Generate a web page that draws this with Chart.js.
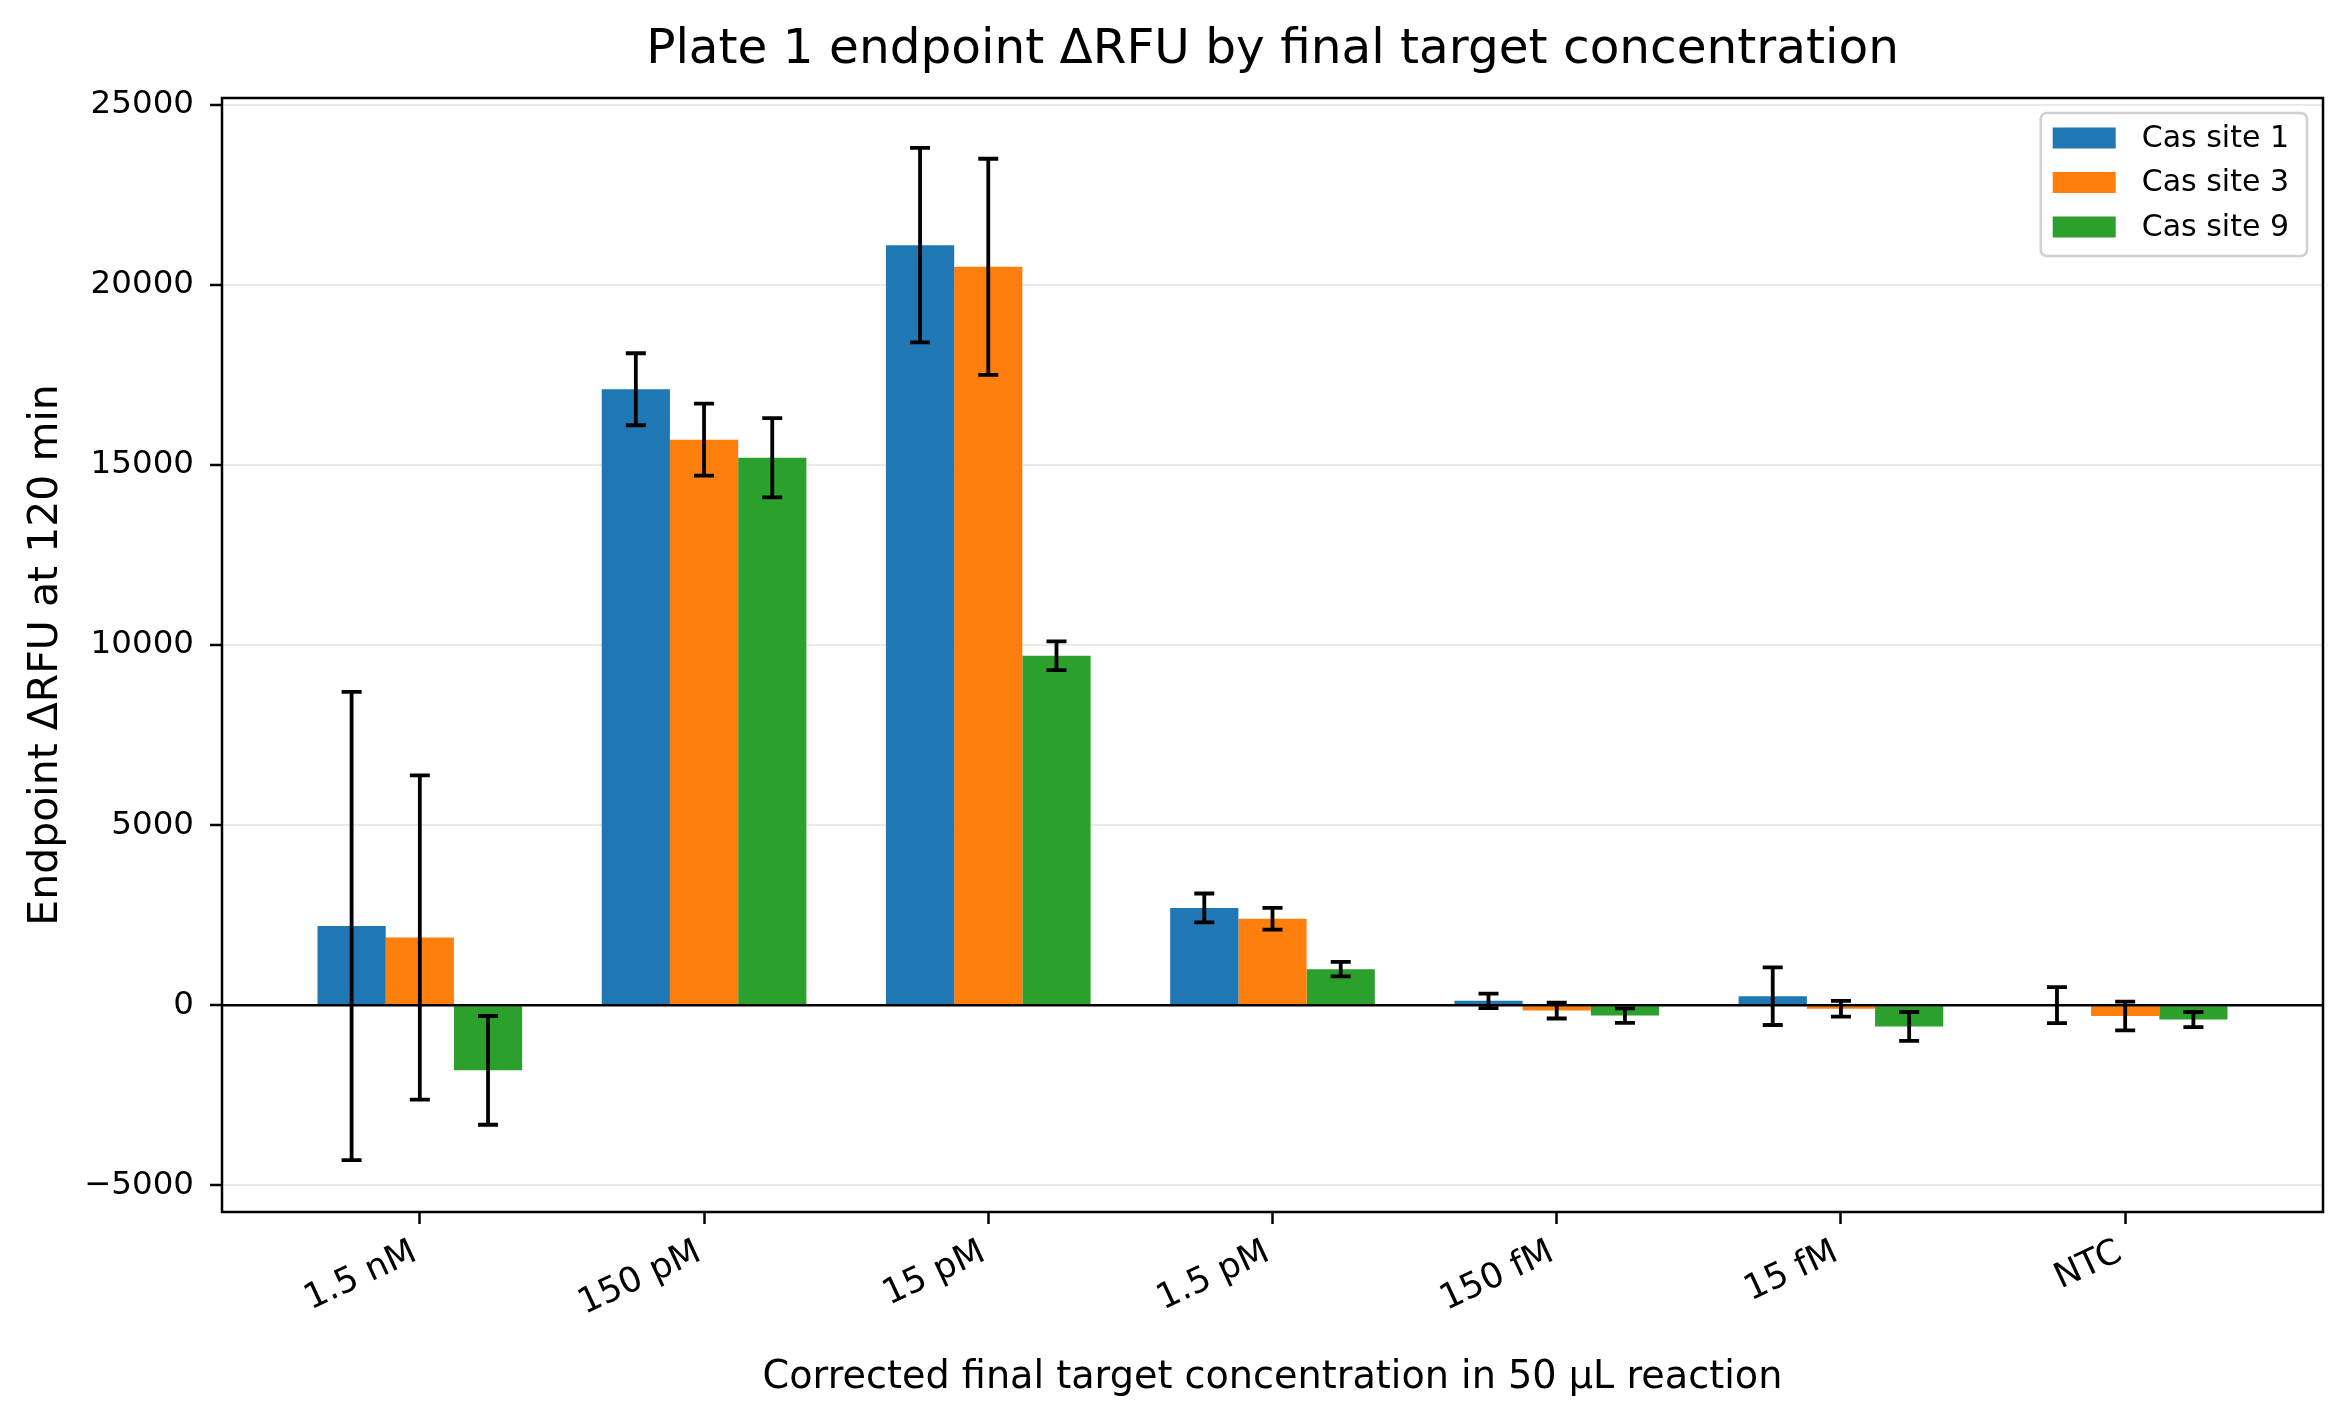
<!DOCTYPE html>
<html>
<head>
<meta charset="utf-8">
<title>Plate 1 endpoint ΔRFU</title>
<script src="https://cdn.jsdelivr.net/npm/chart.js@4.4.0/dist/chart.umd.min.js"></script>
<style>
  html, body { margin: 0; padding: 0; background: #fff; }
  canvas { display: block; }
</style>
</head>
<body>
<canvas id="myChart" width="2347" height="1423"></canvas>
<script>
// values
const categories = ['1.5 nM', '150 pM', '15 pM', '1.5 pM', '150 fM', '15 fM', 'NTC'];
const seriesNames = ['Cas site 1', 'Cas site 3', 'Cas site 9'];
const site1 = [2200, 17100, 21100, 2700, 120, 250, 0];
const site1Err = [6500, 1000, 2700, 400, 200, 800, 500];
const site3 = [1880, 15700, 20500, 2400, -150, -100, -300];
const site3Err = [4500, 1000, 3000, 300, 220, 220, 400];
const site9 = [-1810, 15200, 9700, 1000, -290, -590, -400];
const site9Err = [1510, 1100, 400, 200, 200, 400, 210];
const yTicks = [-5000, 0, 5000, 10000, 15000, 20000, 25000];

const titleText = 'Plate 1 endpoint ΔRFU by final target concentration';
const colors = ['#1f77b4', '#ff7f0e', '#2ca02c'];
const seriesValues = [site1, site3, site9];
const seriesErrors = [site1Err, site3Err, site9Err];
const FONT = "'DejaVu Sans', sans-serif";

const ctx = document.getElementById('myChart').getContext('2d');

// title, zero line, error bars, frame and legend drawn on top
const overlay = {
    id: 'overlay',
    afterDraw(chart) {
        const c = chart.ctx;
        const area = chart.chartArea;
        const y = chart.scales.y;
        c.save();

        // title centred over the axes, like matplotlib
        c.fillStyle = '#000';
        c.font = '48.5px ' + FONT;
        c.textAlign = 'center';
        c.textBaseline = 'middle';
        c.fillText(titleText, (area.left + area.right) / 2, 50);

        c.strokeStyle = '#000';
        c.lineWidth = 2.5;
        const y0 = y.getPixelForValue(0);
        c.beginPath();
        c.moveTo(area.left, y0);
        c.lineTo(area.right, y0);
        c.stroke();

        c.lineWidth = 3.8;
        chart.data.datasets.forEach((ds, i) => {
            const meta = chart.getDatasetMeta(i);
            meta.data.forEach((bar, j) => {
                const v = seriesValues[i][j];
                const e = seriesErrors[i][j];
                const top = y.getPixelForValue(v + e);
                const bot = y.getPixelForValue(v - e);
                c.beginPath();
                c.moveTo(bar.x, top); c.lineTo(bar.x, bot);
                c.moveTo(bar.x - 10, top); c.lineTo(bar.x + 10, top);
                c.moveTo(bar.x - 10, bot); c.lineTo(bar.x + 10, bot);
                c.stroke();
            });
        });

        // axes frame
        c.lineWidth = 2.5;
        c.strokeRect(area.left, area.top, area.right - area.left, area.bottom - area.top);

        // legend box
        c.font = '30px ' + FONT;
        const textW = Math.max(...chart.data.datasets.map(d => c.measureText(d.label).width));
        const rowH = 44.5;
        const boxW = 12 + 63 + 26 + textW + 18;
        const boxH = 143;
        const bx = area.right - 16 - boxW;
        const by = area.top + 15;
        const r = 6;
        c.beginPath();
        c.moveTo(bx + r, by);
        c.arcTo(bx + boxW, by, bx + boxW, by + boxH, r);
        c.arcTo(bx + boxW, by + boxH, bx, by + boxH, r);
        c.arcTo(bx, by + boxH, bx, by, r);
        c.arcTo(bx, by, bx + boxW, by, r);
        c.closePath();
        c.fillStyle = 'rgba(255,255,255,0.8)';
        c.fill();
        c.strokeStyle = '#d0d0d0';
        c.lineWidth = 2.5;
        c.stroke();

        c.textBaseline = 'middle';
        c.textAlign = 'left';
        chart.data.datasets.forEach((ds, i) => {
            const cy = by + 25 + i * rowH;
            c.fillStyle = ds.backgroundColor;
            c.fillRect(bx + 12, cy - 10.5, 63, 21);
            c.fillStyle = '#000';
            c.fillText(ds.label, bx + 12 + 63 + 26, cy + 1);
        });
        c.restore();
    }
};

const datasets = seriesNames.map((name, i) => ({
    label: name,
    data: categories.map((_, j) => ({ x: j, y: seriesValues[i][j] })),
    backgroundColor: colors[i],
    borderWidth: 0,
    categoryPercentage: 0.72,
    barPercentage: 1.0
}));

const myChart = new Chart(ctx, {
    type: 'bar',
    data: { datasets: datasets },
    options: {
        responsive: false,
        animation: false,
        devicePixelRatio: 1,
        layout: { padding: { left: 0, right: 24, top: 98, bottom: 0 } },
        plugins: {
            legend: { display: false },
            tooltip: { enabled: false },
            title: { display: false }
        },
        scales: {
            x: {
                type: 'linear',
                min: -0.696,
                max: 6.696,
                offset: false,
                afterFit: (s) => { s.height = 211; },
                border: { display: false },
                grid: {
                    display: true, drawOnChartArea: false, drawTicks: true, offset: false,
                    tickLength: 12, tickColor: '#000', tickWidth: 2.5
                },
                ticks: {
                    stepSize: 1, includeBounds: false, autoSkip: false,
                    minRotation: 25, maxRotation: 25, padding: 8, labelOffset: -5,
                    color: '#000', font: { family: FONT, size: 35 },
                    callback: (v) => categories[v] ?? ''
                },
                title: {
                    display: true,
                    text: 'Corrected final target concentration in 50 µL reaction',
                    color: '#000',
                    font: { family: FONT, size: 38.2 },
                    padding: { top: 0, bottom: 22 }
                }
            },
            y: {
                min: -5742,
                max: 25186,
                z: 1,
                afterFit: (s) => { s.width = 222; },
                afterBuildTicks: (s) => { s.ticks = yTicks.map(v => ({ value: v })); },
                border: { display: false },
                grid: {
                    color: 'rgba(176,176,176,0.27)', lineWidth: 2,
                    tickColor: '#000', tickLength: 12, tickWidth: 2.5
                },
                ticks: {
                    padding: 16,
                    color: '#000', font: { family: FONT, size: 32.5 },
                    callback: (v) => String(v).replace('-', '\u2212')
                },
                title: {
                    display: true,
                    text: 'Endpoint ΔRFU at 120 min',
                    color: '#000',
                    font: { family: FONT, size: 41 },
                    padding: { top: 22, bottom: 0 }
                }
            }
        }
    },
    plugins: [overlay]
});
</script>
</body>
</html>
